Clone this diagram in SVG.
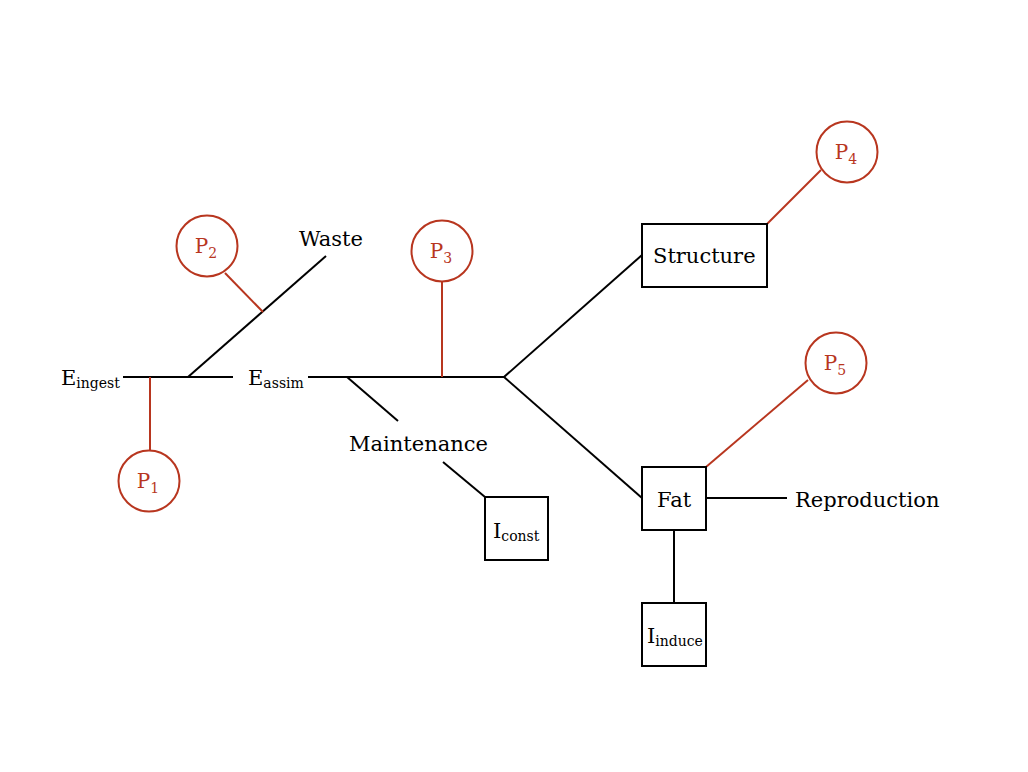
<svg xmlns="http://www.w3.org/2000/svg" width="1028" height="772" viewBox="0 0 1028 772">
<style>
.bk{stroke:#000;stroke-width:2;fill:none}
.rd{stroke:#b8361f;stroke-width:2;fill:none}
.box{fill:#fff;stroke:#000;stroke-width:2}
.circ{fill:#fff;stroke:#b8361f;stroke-width:2}
.t{font-family:"DejaVu Serif","Liberation Serif",serif;font-size:21px;fill:#000}
.s{font-size:14px}
.p{font-family:"DejaVu Serif","Liberation Serif",serif;font-size:20px;fill:#b8361f;text-anchor:middle}
.ps{font-size:14px}
</style>
<rect width="1028" height="772" fill="#fff"/>
<g id="connectors">
<line class="bk" x1="123" y1="377" x2="233" y2="377"/>
<line class="bk" x1="308" y1="377" x2="504" y2="377"/>
<line class="bk" x1="188" y1="377" x2="326" y2="256"/>
<line class="bk" x1="347" y1="377" x2="398" y2="421"/>
<line class="bk" x1="443" y1="462" x2="485" y2="497"/>
<line class="bk" x1="504" y1="377" x2="642" y2="255"/>
<line class="bk" x1="504" y1="377" x2="642" y2="498"/>
<line class="bk" x1="706" y1="498" x2="787" y2="498"/>
<line class="bk" x1="674" y1="530" x2="674" y2="603"/>
<line class="rd" x1="150" y1="377" x2="150" y2="451"/>
<line class="rd" x1="225" y1="273" x2="263" y2="312"/>
<line class="rd" x1="442" y1="282" x2="442" y2="377"/>
<line class="rd" x1="767" y1="224" x2="821" y2="170"/>
<line class="rd" x1="706" y1="467" x2="808" y2="380"/>
</g>
<g id="E_ingest"><text class="t" x="61" y="385">E<tspan class="s" dy="3">ingest</tspan></text></g>
<g id="E_assim"><text class="t" x="248" y="385">E<tspan class="s" dy="3">assim</tspan></text></g>
<g id="Waste"><text class="t" x="299" y="246">Waste</text></g>
<g id="Maintenance"><text class="t" x="349" y="451">Maintenance</text></g>
<g id="Reproduction"><text class="t" x="795" y="507">Reproduction</text></g>
<g id="Structure"><rect class="box" x="642" y="224" width="125" height="63"/><text class="t" x="653" y="263">Structure</text></g>
<g id="Fat"><rect class="box" x="642" y="467" width="64" height="63"/><text class="t" x="657" y="507">Fat</text></g>
<g id="I_const"><rect class="box" x="485" y="497" width="63" height="63"/><text class="t" x="493" y="538">I<tspan class="s" dy="3">const</tspan></text></g>
<g id="I_induce"><rect class="box" x="642" y="603" width="64" height="63"/><text class="t" x="647" y="643">I<tspan class="s" dy="3">induce</tspan></text></g>
<g id="P1"><circle class="circ" cx="149" cy="481" r="30.5"/><text class="p" x="148" y="488">P<tspan class="ps" dy="5">1</tspan></text></g>
<g id="P2"><circle class="circ" cx="207" cy="246" r="30.5"/><text class="p" x="206" y="253">P<tspan class="ps" dy="5">2</tspan></text></g>
<g id="P3"><circle class="circ" cx="442" cy="251" r="30.5"/><text class="p" x="441" y="258">P<tspan class="ps" dy="5">3</tspan></text></g>
<g id="P4"><circle class="circ" cx="847" cy="152" r="30.5"/><text class="p" x="846" y="159">P<tspan class="ps" dy="5">4</tspan></text></g>
<g id="P5"><circle class="circ" cx="836" cy="363" r="30.5"/><text class="p" x="835" y="370">P<tspan class="ps" dy="5">5</tspan></text></g>
</svg>
